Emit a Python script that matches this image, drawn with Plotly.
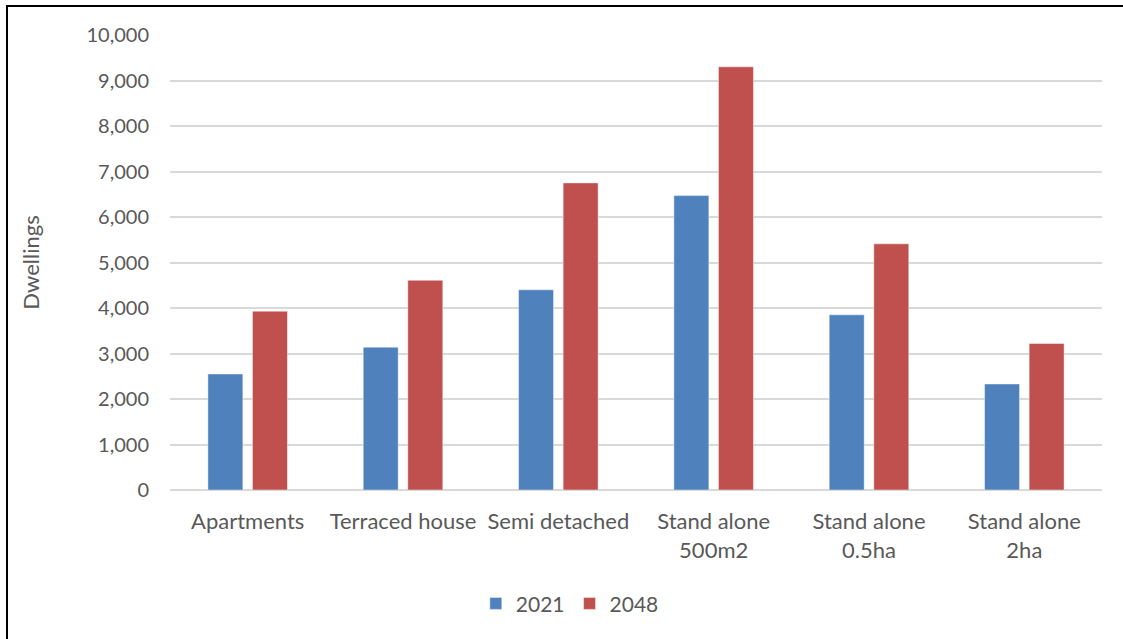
import plotly.graph_objects as go

categories = ["Apartments", "Terraced house", "Semi detached",
              "Stand alone<br>500m2", "Stand alone<br>0.5ha", "Stand alone<br>2ha"]
series_2021 = [2550, 3140, 4400, 6470, 3850, 2330]
series_2048 = [3930, 4610, 6750, 9300, 5410, 3220]
y_ticks = [0, 1000, 2000, 3000, 4000, 5000, 6000, 7000, 8000, 9000, 10000]

FONT = "Lato"
GRAY = "#595959"

fig = go.Figure()
fig.add_trace(go.Bar(name="2021", x=categories, y=series_2021,
                     marker=dict(color="#4f81bd", line=dict(color="rgba(255,255,255,0.45)", width=1))))
fig.add_trace(go.Bar(name="2048", x=categories, y=series_2048,
                     marker=dict(color="#c0504d", line=dict(color="rgba(255,255,255,0.45)", width=1))))

fig.update_layout(
    width=1123, height=639,
    margin=dict(l=170, r=21, t=35, b=149, autoexpand=False),
    paper_bgcolor="white", plot_bgcolor="white",
    barmode="group", bargap=0.426, bargroupgap=0.215,
    font=dict(family=FONT, size=20, color=GRAY),
    showlegend=True,
    legend=dict(orientation="h", x=0.429, xanchor="center", y=-0.25, yanchor="middle",
                font=dict(size=21, color=GRAY), itemwidth=30, traceorder="normal"),
    xaxis=dict(showgrid=False, showline=False, ticks="", ticklabelstandoff=16,
               tickfont=dict(size=22, color=GRAY)),
    yaxis=dict(range=[0, 10000], tickvals=y_ticks, tickformat=",d",
               showgrid=True, gridcolor="#d9d9d9", gridwidth=1.5,
               zeroline=True, zerolinecolor="#d9d9d9", zerolinewidth=1.5,
               showline=False, ticks="", ticklabelstandoff=20,
               tickfont=dict(size=20, color=GRAY),
               title=dict(text="Dwellings", font=dict(size=22, color=GRAY), standoff=40)),
    shapes=[dict(type="rect", xref="paper", yref="paper",
                 x0=(7 - 170) / 932, x1=(1130 - 170) / 932,
                 y0=(490 - 650) / 455, y1=(490 - 6) / 455,
                 line=dict(color="black", width=2), fillcolor="rgba(0,0,0,0)", layer="below")],
)

fig.write_html("out.html")
